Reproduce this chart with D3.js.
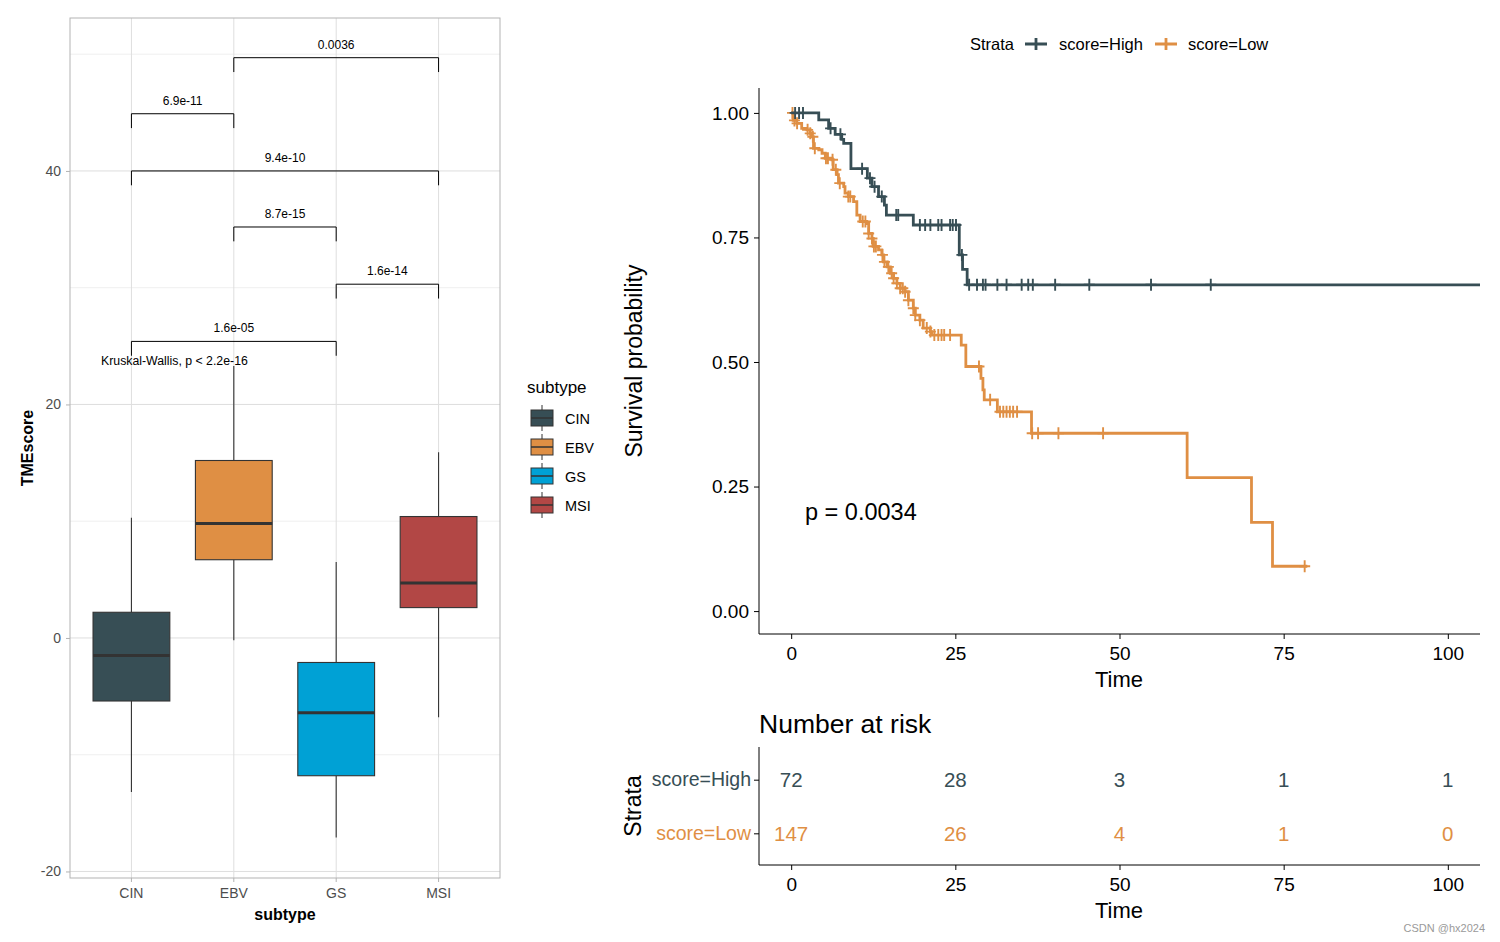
<!DOCTYPE html>
<html><head><meta charset="utf-8">
<script src="https://cdn.jsdelivr.net/npm/d3@7"></script>
<style>body{margin:0;background:#fff} svg{font-family:"Liberation Sans",Arial,sans-serif}</style>
</head><body><svg id="c" width="1500" height="942"></svg>
<script>
// ---------- Boxplot data ----------
const subtypes = ["CIN","EBV","GS","MSI"];
const subtypeColors = ["#374E55","#DF8F44","#00A1D5","#B24745"];
const boxLow = [-13.2,-0.2,-17.1,-6.8];
const boxQ1 = [-5.4,6.7,-11.8,2.6];
const boxMedian = [-1.5,9.8,-6.4,4.7];
const boxQ3 = [2.2,15.2,-2.1,10.4];
const boxHigh = [10.3,23.3,6.5,15.9];
const tmeTicks = [-20,0,20,40];
const tmeMinor = [-10,10,30,50];
const compGroup1 = ["EBV","CIN","CIN","EBV","GS","CIN"];
const compGroup2 = ["MSI","EBV","MSI","GS","MSI","GS"];
const compY = [49.7,44.9,40.0,35.2,30.3,25.4];
const compP = ["0.0036","6.9e-11","9.4e-10","8.7e-15","1.6e-14","1.6e-05"];
const kruskalLabel = "Kruskal-Wallis, p < 2.2e-16";
const kruskalY = 23.7;

// ---------- KM data ----------
const strata = ["score=High","score=Low"];
const strataColors = ["#374E55","#DF8F44"];
const highTime = [0,4.2,5.7,6.7,7.7,8.0,9.1,11.6,12.3,13.3,14.2,14.5,18.6,25.6,26.1,26.8,104.9];
const highSurv = [1,0.986,0.969,0.957,0.947,0.939,0.888,0.869,0.852,0.832,0.815,0.795,0.775,0.715,0.686,0.655,0.655];
const highCensor = [0.6,1.2,1.8,6.0,7.5,10.8,12.0,12.7,13.8,16.0,16.3,19.6,20.4,21.2,22.4,22.9,24.2,24.6,25.1,26.0,27.1,28.3,29.2,29.6,31.4,32.8,35.1,36.1,36.8,40.2,45.4,54.8,63.9];
const lowTime = [0,0.3,0.86,1.6,2.4,2.9,3.15,3.4,4.2,4.7,5.2,6.2,6.4,7.0,7.2,8.0,8.2,8.7,9.5,10.0,10.5,11.5,11.8,12.3,12.5,13.3,13.8,14.05,14.6,15.1,15.6,16.1,16.6,17.35,17.85,18.6,18.9,19.6,20.1,21.2,21.4,25.9,26.6,28.9,29.2,29.4,31.4,36.6,60.3,70.1,73.3,78.6];
const lowSurv = [1,0.985,0.979,0.969,0.966,0.959,0.952,0.929,0.926,0.919,0.909,0.906,0.886,0.876,0.859,0.852,0.839,0.832,0.822,0.795,0.782,0.778,0.758,0.748,0.732,0.725,0.715,0.701,0.691,0.678,0.668,0.658,0.648,0.641,0.624,0.608,0.594,0.584,0.568,0.561,0.554,0.534,0.491,0.467,0.444,0.424,0.400,0.357,0.268,0.178,0.090,0.090];
const lowCensor = [0.2,0.5,0.9,2.5,2.9,3.3,3.6,5.3,5.6,6.3,6.8,7.4,8.7,9.0,10.9,11.3,11.8,12.3,12.6,12.9,13.9,14.2,14.8,15.3,15.6,16.1,16.6,17.0,17.35,17.85,18.6,18.9,19.6,20.65,21.2,21.8,22.4,22.9,23.3,24.2,28.6,30.3,31.8,32.3,32.8,33.3,33.8,34.4,36.7,37.6,40.7,47.5,78.2];
const survTicks = [0,0.25,0.5,0.75,1.0];
const timeTicks = [0,25,50,75,100];
const pValueLabel = "p = 0.0034";
const riskTimes = [0,25,50,75,100];
const riskHigh = [72,28,3,1,1];
const riskLow = [147,26,4,1,0];

const svg = d3.select("#c");
const FF = "Liberation Sans, Arial";

// ================= BOXPLOT =================
const bx = d3.scaleBand().domain(subtypes).range([70,500]).paddingInner(0).paddingOuter(0.1);
const by = d3.scaleLinear().domain([-20.56,53.1]).range([878,18]);
const bcx = d => bx(d) + bx.bandwidth()/2;
const gB = svg.append("g");
gB.selectAll(".gmin").data(tmeMinor).join("line")
  .attr("x1",70).attr("x2",500).attr("y1",d=>by(d)).attr("y2",d=>by(d))
  .attr("stroke","#EBEBEB").attr("stroke-width",0.8);
gB.selectAll(".gmaj").data(tmeTicks).join("line")
  .attr("x1",70).attr("x2",500).attr("y1",d=>by(d)).attr("y2",d=>by(d))
  .attr("stroke","#DEDEDE").attr("stroke-width",1);
gB.selectAll(".gx").data(subtypes).join("line")
  .attr("x1",d=>bcx(d)).attr("x2",d=>bcx(d)).attr("y1",18).attr("y2",878)
  .attr("stroke","#DEDEDE").attr("stroke-width",1);
const boxW = bx.bandwidth()*0.75;
subtypes.forEach((s,i)=>{
  const cx = bcx(s);
  gB.append("line").attr("x1",cx).attr("x2",cx).attr("y1",by(boxHigh[i])).attr("y2",by(boxQ3[i])).attr("stroke","#333").attr("stroke-width",1.1);
  gB.append("line").attr("x1",cx).attr("x2",cx).attr("y1",by(boxQ1[i])).attr("y2",by(boxLow[i])).attr("stroke","#333").attr("stroke-width",1.1);
  gB.append("rect").attr("x",cx-boxW/2).attr("width",boxW).attr("y",by(boxQ3[i])).attr("height",by(boxQ1[i])-by(boxQ3[i]))
    .attr("fill",subtypeColors[i]).attr("stroke","#333").attr("stroke-width",1.1);
  gB.append("line").attr("x1",cx-boxW/2).attr("x2",cx+boxW/2).attr("y1",by(boxMedian[i])).attr("y2",by(boxMedian[i])).attr("stroke","#333").attr("stroke-width",3);
});
const tickLen = 1.23;
compP.forEach((p,i)=>{
  const x1 = bcx(compGroup1[i]), x2 = bcx(compGroup2[i]);
  const y = by(compY[i]), yb = by(compY[i]-tickLen);
  gB.append("path").attr("d",`M${x1},${yb}V${y}H${x2}V${yb}`).attr("fill","none").attr("stroke","#000").attr("stroke-width",1);
  gB.append("text").attr("x",(x1+x2)/2).attr("y",y-9).attr("text-anchor","middle").attr("font-size",12).attr("fill","#000").text(p);
});
gB.append("text").attr("x",101).attr("y",by(kruskalY)+4).attr("font-size",12.3).attr("fill","#000").text(kruskalLabel);
gB.append("rect").attr("x",70).attr("y",18).attr("width",430).attr("height",860).attr("fill","none").attr("stroke","#B3B3B3").attr("stroke-width",1);
const yAxB = gB.append("g").attr("transform","translate(70,0)").call(d3.axisLeft(by).tickValues(tmeTicks).tickFormat(d=>String(d)).tickSize(4).tickPadding(5));
yAxB.select(".domain").remove();
yAxB.selectAll("line").attr("stroke","#B3B3B3");
yAxB.selectAll("text").attr("font-size",14).attr("fill","#4D4D4D").attr("font-family",FF);
const xAxB = gB.append("g").attr("transform","translate(0,878)").call(d3.axisBottom(bx).tickSize(4).tickPadding(6));
xAxB.select(".domain").remove();
xAxB.selectAll("line").attr("stroke","#B3B3B3");
xAxB.selectAll("text").attr("font-size",14).attr("fill","#4D4D4D").attr("font-family",FF);
gB.append("text").attr("x",285).attr("y",920).attr("text-anchor","middle").attr("font-size",16).attr("font-weight","bold").text("subtype");
gB.append("text").attr("transform","translate(33,448) rotate(-90)").attr("text-anchor","middle").attr("font-size",16).attr("font-weight","bold").text("TMEscore");
const gL = svg.append("g");
gL.append("text").attr("x",527).attr("y",393).attr("font-size",17).text("subtype");
subtypes.forEach((s,i)=>{
  const cy = 418 + i*29, kx = 531, kw = 22;
  gL.append("line").attr("x1",kx+kw/2).attr("x2",kx+kw/2).attr("y1",cy-13).attr("y2",cy+13).attr("stroke","#333").attr("stroke-width",1);
  gL.append("rect").attr("x",kx).attr("y",cy-8).attr("width",kw).attr("height",16).attr("fill",subtypeColors[i]).attr("stroke","#333").attr("stroke-width",1);
  gL.append("line").attr("x1",kx).attr("x2",kx+kw).attr("y1",cy).attr("y2",cy).attr("stroke","#333").attr("stroke-width",1.5);
  gL.append("text").attr("x",565).attr("y",cy+6).attr("font-size",14.5).text(s);
});

// ================= KM PLOT =================
const kx = d3.scaleLinear().domain([-4.9,104.9]).range([759,1480]);
const ky = d3.scaleLinear().domain([-0.046,1.05]).range([634,88]);
const gK = svg.append("g");
const line = d3.line().x(d=>kx(d[0])).y(d=>ky(d[1])).curve(d3.curveStepAfter);
const survAt = (times, surv, t) => surv[Math.max(0, d3.bisectRight(times,t)-1)];
const curves = [
  {times:highTime, surv:highSurv, cens:highCensor, color:strataColors[0]},
  {times:lowTime, surv:lowSurv, cens:lowCensor, color:strataColors[1]}
];
curves.slice().reverse().forEach(c=>{
  gK.append("path").attr("d",line(c.times.map((t,i)=>[t,c.surv[i]]))).attr("fill","none").attr("stroke",c.color).attr("stroke-width",2.8);
  c.cens.forEach(t=>{
    const x = kx(t), y = ky(survAt(c.times,c.surv,t));
    gK.append("path").attr("d",`M${x-5.5},${y}H${x+5.5}M${x},${y-6}V${y+6}`).attr("stroke",c.color).attr("stroke-width",1.9);
  });
});
const yAxK = gK.append("g").attr("transform","translate(759,0)").call(d3.axisLeft(ky).tickValues(survTicks).tickFormat(d3.format(".2f")).tickSize(5).tickPadding(5));
yAxK.select(".domain").attr("d","M0,88V634").attr("stroke","#000");
yAxK.selectAll("text").attr("font-size",19).attr("fill","#000").attr("font-family",FF);
const xAxK = gK.append("g").attr("transform","translate(0,634)").call(d3.axisBottom(kx).tickValues(timeTicks).tickSize(5).tickPadding(8));
xAxK.select(".domain").attr("d","M759,0H1480").attr("stroke","#000");
xAxK.selectAll("text").attr("font-size",19).attr("fill","#000").attr("font-family",FF);
gK.append("text").attr("x",1119).attr("y",687).attr("text-anchor","middle").attr("font-size",22).text("Time");
gK.append("text").attr("transform","translate(642,361) rotate(-90)").attr("text-anchor","middle").attr("font-size",23).text("Survival probability");
gK.append("text").attr("x",805).attr("y",520).attr("font-size",23.5).text(pValueLabel);
const gT = svg.append("g");
gT.append("text").attr("x",970).attr("y",50).attr("font-size",16.5).text("Strata");
const legX = [1025,1155], legTX = [1059,1188];
strata.forEach((s,i)=>{
  gT.append("path").attr("d",`M${legX[i]},44H${legX[i]+22}M${legX[i]+11},38V50`).attr("stroke",strataColors[i]).attr("stroke-width",2.8);
  gT.append("text").attr("x",legTX[i]).attr("y",50).attr("font-size",16.5).text(s);
});

// ================= RISK TABLE =================
const ry = d3.scaleBand().domain(strata).range([748,866]).paddingInner(0).paddingOuter(0.1);
const gR = svg.append("g");
gR.append("text").attr("x",759).attr("y",733).attr("font-size",26.5).text("Number at risk");
const riskData = [riskHigh, riskLow];
strata.forEach((s,i)=>{
  const cy = ry(s)+ry.bandwidth()/2;
  riskTimes.forEach((t,j)=>{
    gR.append("text").attr("x",kx(t)).attr("y",cy+7).attr("text-anchor","middle").attr("font-size",20.5).attr("fill",strataColors[i]).text(riskData[i][j]);
  });
});
const yAxR = gR.append("g").attr("transform","translate(759,0)").call(d3.axisLeft(ry).tickSize(5).tickPadding(3));
yAxR.select(".domain").attr("d","M0,747V865").attr("stroke","#000");
yAxR.selectAll("text").attr("font-size",19.5).attr("font-family",FF).attr("fill",(d,i)=>strataColors[i]);
const xAxR = gR.append("g").attr("transform","translate(0,865)").call(d3.axisBottom(kx).tickValues(timeTicks).tickSize(5).tickPadding(8));
xAxR.select(".domain").attr("d","M759,0H1480").attr("stroke","#000");
xAxR.selectAll("text").attr("font-size",19).attr("fill","#000").attr("font-family",FF);
gR.append("text").attr("x",1119).attr("y",918).attr("text-anchor","middle").attr("font-size",22).text("Time");
gR.append("text").attr("transform","translate(641,806) rotate(-90)").attr("text-anchor","middle").attr("font-size",23).text("Strata");

svg.append("text").attr("x",1485).attr("y",932).attr("text-anchor","end").attr("font-size",11).attr("fill","#9a9a9a").text("CSDN @hx2024");
</script></body></html>
